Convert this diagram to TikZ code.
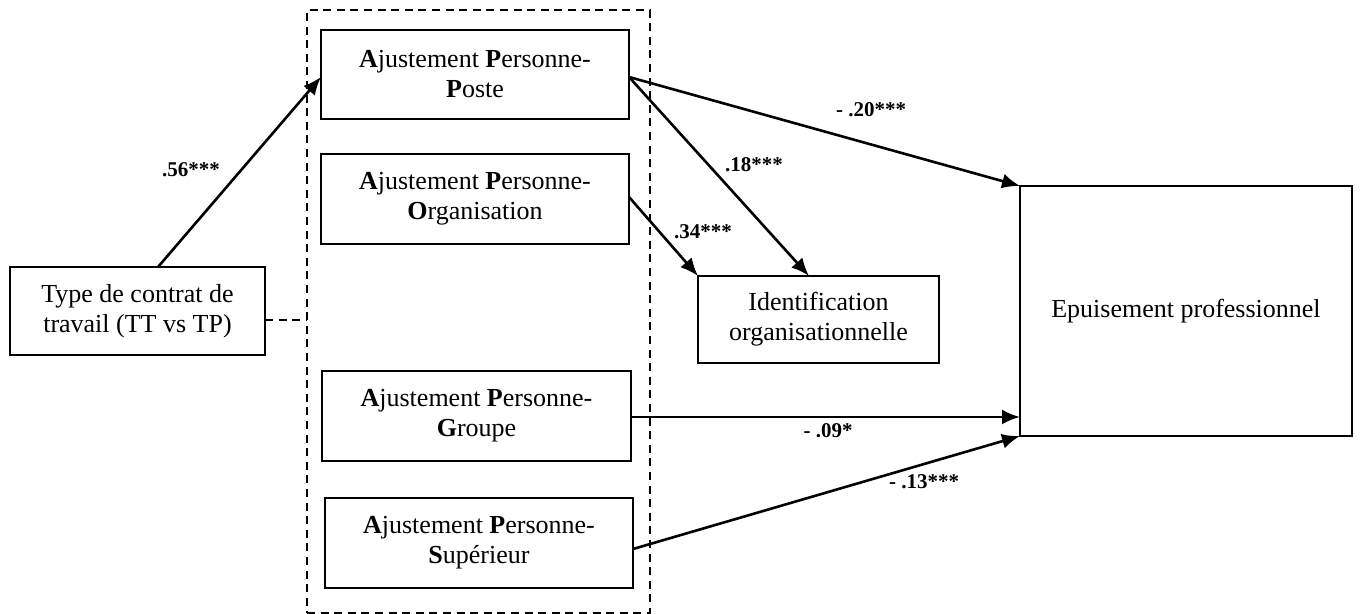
\documentclass[tikz,border=0pt]{standalone}
\usepackage{fontspec}
\setmainfont{Liberation Serif}
\usetikzlibrary{arrows.meta,calc}
\begin{document}
\begin{tikzpicture}[x=0.5pt,y=-0.5pt,
  box/.style={draw, line width=1.1pt, inner sep=0pt, outer sep=0pt, align=center,
    font=\fontsize{13}{15}\selectfont},
  arr/.style={line width=1.3pt, -{Latex[length=9pt,width=7.5pt]}},
  coef/.style={font=\fontsize{10.5}{12}\selectfont\bfseries, inner sep=0pt},
  dbox/.style={draw, line width=1.3pt, dash pattern=on 4pt off 2.8pt}]
\useasboundingbox (0,0) rectangle (1360,614);
\node[dbox, minimum width=171.5pt, minimum height=301.5pt, inner sep=0pt, outer sep=0pt] (grp) at (478.5,311.5) {};
\node[box, minimum width=154pt, minimum height=44.5pt] (poste) at (475,74.5)
  {\textbf{A}justement \textbf{P}ersonne-\\\textbf{P}oste};
\node[box, minimum width=154pt, minimum height=45pt] (orga) at (475,199)
  {\textbf{A}justement \textbf{P}ersonne-\\\textbf{O}rganisation};
\node[box, minimum width=154.5pt, minimum height=45pt] (groupe) at (476.5,416)
  {\textbf{A}justement \textbf{P}ersonne-\\\textbf{G}roupe};
\node[box, minimum width=154pt, minimum height=45pt] (sup) at (479,543)
  {\textbf{A}justement \textbf{P}ersonne-\\\textbf{S}upérieur};
\node[box, minimum width=127.5pt, minimum height=44pt] (type) at (137.5,311)
  {Type de contrat de\\travail (TT vs TP)};
\node[box, minimum width=120.5pt, minimum height=43.5pt] (ident) at (818.5,319.5)
  {Identification\\organisationnelle};
\node[box, minimum width=166pt, minimum height=125pt] (epuis) at (1186,311)
  {Epuisement professionnel};
% helper coordinates
\coordinate (gstart) at ($(groupe.east)+(0,1)$);
\coordinate (tstart) at ($(type.east)+(0,9)$);
% connectors
\draw[arr] ($(type.north)+(20.5,0)$) -- ($(poste.west)+(0,2.5)$);
\draw[arr] ($(poste.east)+(0,2.5)$) -- (epuis.north west);
\draw[arr] ($(poste.east)+(0,2.5)$) -- ($(ident.north)+(-9.5,0)$);
\draw[arr] ($(orga.east)+(0,-2)$) -- (ident.north west);
\draw[arr] (gstart) -- (gstart -| epuis.west);
\draw[arr] ($(sup.east)+(0,6)$) -- (epuis.south west);
\draw[line width=1.3pt, dash pattern=on 4pt off 2.8pt] (tstart) -- (tstart -| grp.west);
% coefficients
\node[coef] (c56) at (191,170) {.56***};
\node[coef] (c20) at (871,110) {- .20***};
\node[coef] (c18) at (754,165) {.18***};
\node[coef] (c34) at (703,232) {.34***};
\node[coef] (c09) at (828,431) {- .09*};
\node[coef] (c13) at (924,482) {- .13***};
\end{tikzpicture}
\end{document}
